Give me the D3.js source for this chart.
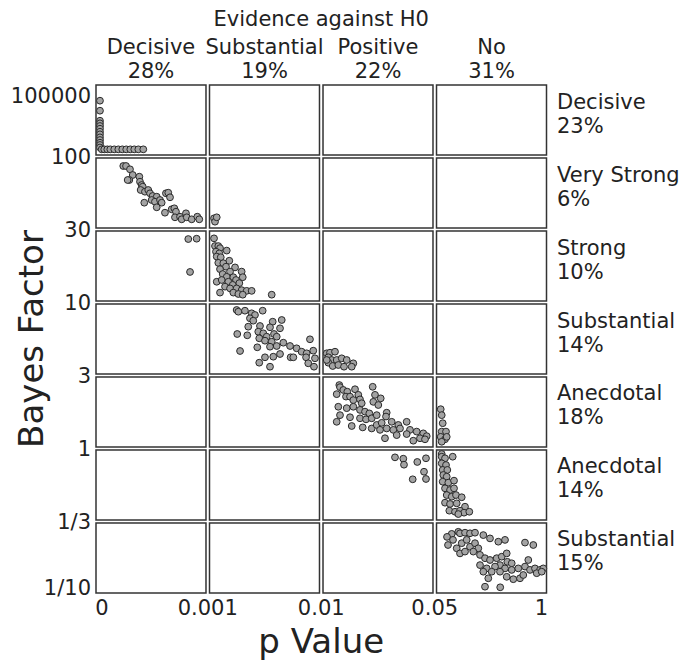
<!DOCTYPE html>
<html>
<head>
<meta charset="utf-8">
<script src="https://cdn.jsdelivr.net/npm/d3@7"></script>
<style>
  body { margin: 0; background: #fff; }
  text { font-family: "DejaVu Sans", sans-serif; fill: #222; }
</style>
</head>
<body>
<svg id="chart" width="698" height="660"></svg>
<script>
// p value bands (columns) and Bayes factor bands (rows)
const pCuts = [0, 0.001, 0.01, 0.05, 1];
const pTickLabels = ["0", "0.001", "0.01", "0.05", "1"];
const colLabels = ["Decisive", "Substantial", "Positive", "No"];
const colPct = ["28%", "19%", "22%", "31%"];

const bfCuts = [100000, 100, 30, 10, 3, 1, 1 / 3, 1 / 10];
const bfTickLabels = ["100000", "100", "30", "10", "3", "1", "1/3", "1/10"];
const rowLabels = ["Decisive", "Very Strong", "Strong", "Substantial", "Anecdotal", "Anecdotal", "Substantial"];
const rowPct = ["23%", "6%", "10%", "14%", "18%", "14%", "15%"];

// [p value, Bayes factor]
const ptsDecisive = [
  [0.000036, 77600], [0.000036, 63300], [0.000036, 49000], [0.000036, 45300], [0.000036, 41500],
  [0.000036, 37600], [0.000036, 33300], [0.000036, 29600], [0.000036, 25300], [0.000036, 21500],
  [0.000036, 17600], [0.000036, 14400], [0.000036, 10800],
  [0.000052, 8200], [0.000075, 8200], [0.000103, 8200], [0.00013, 8200], [0.000166, 8200],
  [0.000203, 8200], [0.000239, 8200], [0.000275, 8200], [0.000312, 8200], [0.000348, 8200],
  [0.000385, 8200], [0.00043, 8200]
];
const ptsVeryStrong = [
  [0.000248, 92], [0.000273, 92], [0.000309, 88.7], [0.000334, 83], [0.000303, 78], [0.000288, 78],
  [0.000394, 81.3], [0.0004, 76.3], [0.000415, 73], [0.000425, 71.3], [0.000406, 68], [0.000445, 66.3],
  [0.000475, 68], [0.000491, 64.7], [0.000515, 62], [0.000552, 61.3], [0.000506, 58], [0.000536, 56.3],
  [0.000582, 58], [0.000597, 55.3], [0.000439, 55.3], [0.000552, 50.7], [0.000636, 64.7], [0.000657, 65.3],
  [0.000673, 60.7], [0.000627, 45.3], [0.000688, 48.7], [0.000712, 49.7], [0.000727, 46.3], [0.000718, 40.7],
  [0.000764, 41.3], [0.000779, 38.7], [0.000818, 44.7], [0.000825, 40.7], [0.00087, 38.7], [0.000921, 41.3],
  [0.000939, 38.7], [0.00137, 39.7], [0.00145, 36.3], [0.00159, 40.7]
];
const ptsStrong = [
  [0.000839, 27.7], [0.000915, 27.8], [0.000855, 18.3],
  [0.00137, 27.9], [0.00145, 25.7], [0.00172, 25.7], [0.00186, 25.1], [0.00153, 24.1], [0.0018, 23.6],
  [0.00241, 24.4], [0.00159, 22.7], [0.00192, 22.5], [0.00262, 21.5], [0.00172, 20.9], [0.00213, 20.8],
  [0.00235, 19.8], [0.00309, 19.6], [0.00186, 19.1], [0.00268, 18.4], [0.00363, 18.4], [0.00208, 17.7],
  [0.00241, 16.9], [0.00295, 16.8], [0.00372, 16.8], [0.00159, 15.5], [0.002, 16], [0.00254, 15.5],
  [0.00317, 16], [0.00344, 15.1], [0.0029, 14.6], [0.00227, 14.1], [0.00268, 13.6], [0.00322, 13.6],
  [0.00363, 13.1], [0.00404, 12.9], [0.00445, 12.9], [0.00186, 12.4], [0.00295, 12.4], [0.00336, 12],
  [0.00372, 11.8], [0.00609, 11.8]
];
const ptsSubstantialH1 = [
  [0.00322, 9.4], [0.00336, 9.23], [0.0039, 9.33], [0.00445, 9.07], [0.00535, 9.33], [0.00472, 8.9],
  [0.00431, 8.57], [0.00458, 8.33], [0.00617, 8.23], [0.00691, 8.4], [0.00417, 7.73], [0.00513, 7.8],
  [0.00595, 7.67], [0.00677, 7.57], [0.00499, 7.23], [0.0054, 7.07], [0.00628, 7], [0.00327, 7],
  [0.00409, 6.87], [0.00568, 6.73], [0.0065, 6.73], [0.00507, 6.57], [0.00554, 6.33], [0.00609, 6.23],
  [0.00704, 6.13], [0.00759, 5.8], [0.00813, 5.57], [0.00922, 6.47], [0.00491, 5.67], [0.00595, 5.73],
  [0.0065, 5.8], [0.00854, 5.23], [0.00895, 5.07], [0.00949, 5.33], [0.0035, 5.3], [0.00554, 4.67],
  [0.00622, 4.73], [0.00677, 5], [0.00764, 4.67], [0.00786, 4.67], [0.0089, 4.67], [0.00963, 4.57],
  [0.00908, 4.07], [0.00507, 4.13], [0.00595, 3.73], [0.00955, 3.73],
  [0.01135, 5.07], [0.01255, 5.13], [0.01436, 5.23], [0.01193, 4.67], [0.01316, 4.4], [0.01498, 4.4],
  [0.0168, 4.57], [0.01862, 4.4], [0.02102, 4.07], [0.01193, 4.13], [0.01353, 3.8], [0.01556, 3.9],
  [0.01764, 3.73], [0.02044, 3.73], [0.01135, 4.4]
];
const ptsAnecdotalH1 = [
  [0.01593, 2.77], [0.01618, 2.71], [0.01498, 2.51], [0.01738, 2.63], [0.01884, 2.58], [0.02164, 2.65],
  [0.01836, 2.44], [0.01982, 2.44], [0.02102, 2.34], [0.02284, 2.49], [0.02345, 2.36], [0.02407, 2.25],
  [0.02807, 2.72], [0.02891, 2.49], [0.03098, 2.39], [0.02829, 2.29], [0.03011, 2.2], [0.01556, 2.15],
  [0.01862, 2.11], [0.02102, 2.15], [0.02345, 2.06], [0.02527, 2.01], [0.02684, 1.96], [0.01618, 1.91],
  [0.01982, 1.85], [0.02345, 1.82], [0.02564, 1.79], [0.02771, 1.82], [0.02953, 1.91], [0.03316, 1.98],
  [0.03291, 1.87], [0.01498, 1.72], [0.02044, 1.6], [0.02444, 1.56], [0.02771, 1.53], [0.02953, 1.63],
  [0.03134, 1.69], [0.03498, 1.72], [0.03738, 1.63], [0.04043, 1.72], [0.03073, 1.49], [0.03316, 1.53],
  [0.03556, 1.49], [0.038, 1.53], [0.04163, 1.49], [0.04407, 1.44], [0.04647, 1.39], [0.04771, 1.31],
  [0.03254, 1.25], [0.0368, 1.34], [0.04043, 1.37], [0.04283, 1.18], [0.04527, 1.25], [0.04709, 1.22],
  [0.0863, 2.08], [0.0949, 1.91], [0.1035, 1.68], [0.0949, 1.44], [0.132, 1.44], [0.0863, 1.29],
  [0.1234, 1.22], [0.0949, 1.15], [0.1381, 1.29]
];
const ptsAnecdotalH0 = [
  [0.03618, 0.93], [0.0392, 0.917], [0.03945, 0.86], [0.04429, 0.886], [0.04745, 0.921], [0.04673, 0.793],
  [0.04745, 0.724], [0.04262, 0.721],
  [0.0949, 0.962], [0.0949, 0.936], [0.1234, 0.921], [0.1899, 0.936], [0.0949, 0.873], [0.132, 0.857],
  [0.1035, 0.81], [0.1433, 0.81], [0.1087, 0.762], [0.1381, 0.746], [0.1035, 0.698], [0.1519, 0.689],
  [0.2011, 0.708], [0.1234, 0.635], [0.1666, 0.619], [0.2011, 0.635], [0.1381, 0.571], [0.1813, 0.555],
  [0.2184, 0.571], [0.2676, 0.55], [0.1234, 0.498], [0.1666, 0.486], [0.2244, 0.492], [0.2961, 0.46],
  [0.1605, 0.422], [0.2098, 0.412], [0.2529, 0.422], [0.2875, 0.403], [0.3333, 0.412], [0.2383, 0.39]
];
const ptsSubstantialH0 = [
  [0.1813, 0.297], [0.2383, 0.304], [0.2529, 0.299], [0.2961, 0.301], [0.3393, 0.299], [0.3825, 0.301],
  [0.4542, 0.293], [0.512, 0.282], [0.5837, 0.271], [0.6416, 0.277], [0.8143, 0.268], [0.886, 0.26],
  [0.2244, 0.249], [0.2676, 0.266], [0.3108, 0.277], [0.3393, 0.254], [0.3825, 0.266], [0.411, 0.249],
  [0.2529, 0.232], [0.2961, 0.238], [0.3678, 0.238], [0.4257, 0.227], [0.4688, 0.216], [0.512, 0.21],
  [0.5699, 0.216], [0.6131, 0.221], [0.6563, 0.232], [0.6614, 0.204], [0.6994, 0.199], [0.5984, 0.193],
  [0.5552, 0.188], [0.6416, 0.182], [0.6994, 0.177], [0.7564, 0.182], [0.8143, 0.188], [0.8428, 0.21],
  [0.8575, 0.177], [0.9006, 0.182], [0.9438, 0.177], [0.9723, 0.182], [0.5984, 0.171], [0.6563, 0.154],
  [0.7132, 0.146], [0.7711, 0.149], [0.7996, 0.16], [0.4973, 0.149], [0.4688, 0.121], [0.6002, 0.119],
  [0.4257, 0.193], [0.4835, 0.182], [0.5267, 0.171], [0.4542, 0.171], [0.9153, 0.166], [0.9585, 0.171],
  [0.1407, 0.287], [0.1493, 0.26], [0.1925, 0.277]
];

const allPoints = [].concat(ptsDecisive, ptsVeryStrong, ptsStrong, ptsSubstantialH1,
  ptsAnecdotalH1, ptsAnecdotalH0, ptsSubstantialH0);

const svg = d3.select("#chart");

const colBand = d3.scaleBand().domain(d3.range(4)).range([96, 546.5]).paddingInner(0.031);
const rowBand = d3.scaleBand().domain(d3.range(7)).range([85, 593]).paddingInner(0.041);
const bw = colBand.bandwidth(), bh = rowBand.bandwidth();

// per-panel scales
const xScales = d3.range(4).map(c => d3.scaleLinear()
  .domain([pCuts[c], pCuts[c + 1]])
  .range([colBand(c), colBand(c) + bw]));
const yScales = d3.range(7).map(r => d3.scaleLinear()
  .domain([bfCuts[r + 1], bfCuts[r]])
  .range([rowBand(r) + bh, rowBand(r)]));

const colOf = p => Math.min(3, d3.bisectRight(pCuts, p) - 1);
const rowOf = bf => {
  for (let r = 0; r < 7; r++) if (bf >= bfCuts[r + 1]) return r;
  return 6;
};

// panel frames
const cells = [];
d3.range(7).forEach(r => d3.range(4).forEach(c => cells.push({ r, c })));
svg.append("g")
  .selectAll("rect")
  .data(cells)
  .join("rect")
  .attr("x", d => colBand(d.c))
  .attr("y", d => rowBand(d.r))
  .attr("width", bw)
  .attr("height", bh)
  .attr("fill", "none")
  .attr("stroke", "#333")
  .attr("stroke-width", 1.5);

// points
svg.append("g")
  .selectAll("circle")
  .data(allPoints)
  .join("circle")
  .attr("cx", d => xScales[colOf(d[0])](d[0]))
  .attr("cy", d => yScales[rowOf(d[1])](d[1]))
  .attr("r", 3.4)
  .attr("fill", "#a3a3a3")
  .attr("stroke", "#2a2a2a")
  .attr("stroke-width", 1);

// x tick labels at the band edges
const gapX = colBand.step() - bw;
svg.append("g")
  .selectAll("text")
  .data(pTickLabels)
  .join("text")
  .attr("x", (d, i) => {
    if (i === 0) return xScales[0](pCuts[0]) + 6;
    if (i === 4) return xScales[3](pCuts[4]) - 5;
    return xScales[i - 1](pCuts[i]) + gapX / 2;
  })
  .attr("y", 615)
  .attr("text-anchor", "middle")
  .style("font-size", "21px")
  .text(d => d);

// y tick labels at the band edges
const gapY = rowBand.step() - bh;
svg.append("g")
  .selectAll("text")
  .data(bfTickLabels)
  .join("text")
  .attr("x", 91)
  .attr("y", (d, i) => {
    if (i === 0) return yScales[0](bfCuts[0]) + 10;
    if (i === 7) return yScales[6](bfCuts[7]) - 6;
    return yScales[i - 1](bfCuts[i]) + gapY / 2;
  })
  .attr("dy", "0.36em")
  .attr("text-anchor", "end")
  .style("font-size", "21px")
  .text(d => d);

// column headers
svg.append("text")
  .attr("x", (colBand(0) + colBand(3) + bw) / 2)
  .attr("y", 26)
  .attr("text-anchor", "middle")
  .style("font-size", "21px")
  .text("Evidence against H0");

const heads = svg.append("g")
  .selectAll("g")
  .data(colLabels)
  .join("g")
  .attr("transform", (d, i) => `translate(${colBand(i) + bw / 2},0)`);
heads.append("text").attr("y", 53.5).attr("text-anchor", "middle").style("font-size", "21px").text(d => d);
heads.append("text").attr("y", 77.5).attr("text-anchor", "middle").style("font-size", "21px").text((d, i) => colPct[i]);

// row labels on the right
const rowsG = svg.append("g")
  .selectAll("g")
  .data(rowLabels)
  .join("g")
  .attr("transform", (d, i) => `translate(557,${rowBand(i) + bh / 2})`);
rowsG.append("text").attr("y", -11.5).style("font-size", "21px").text(d => d);
rowsG.append("text").attr("y", 12.5).style("font-size", "21px").text((d, i) => rowPct[i]);

// axis titles
svg.append("text")
  .attr("x", (colBand(0) + colBand(3) + bw) / 2)
  .attr("y", 653)
  .attr("text-anchor", "middle")
  .style("font-size", "34px")
  .text("p Value");

svg.append("text")
  .attr("transform", `translate(43,${(rowBand(0) + rowBand(6) + bh) / 2}) rotate(-90)`)
  .attr("text-anchor", "middle")
  .style("font-size", "34px")
  .text("Bayes Factor");
</script>
</body>
</html>
